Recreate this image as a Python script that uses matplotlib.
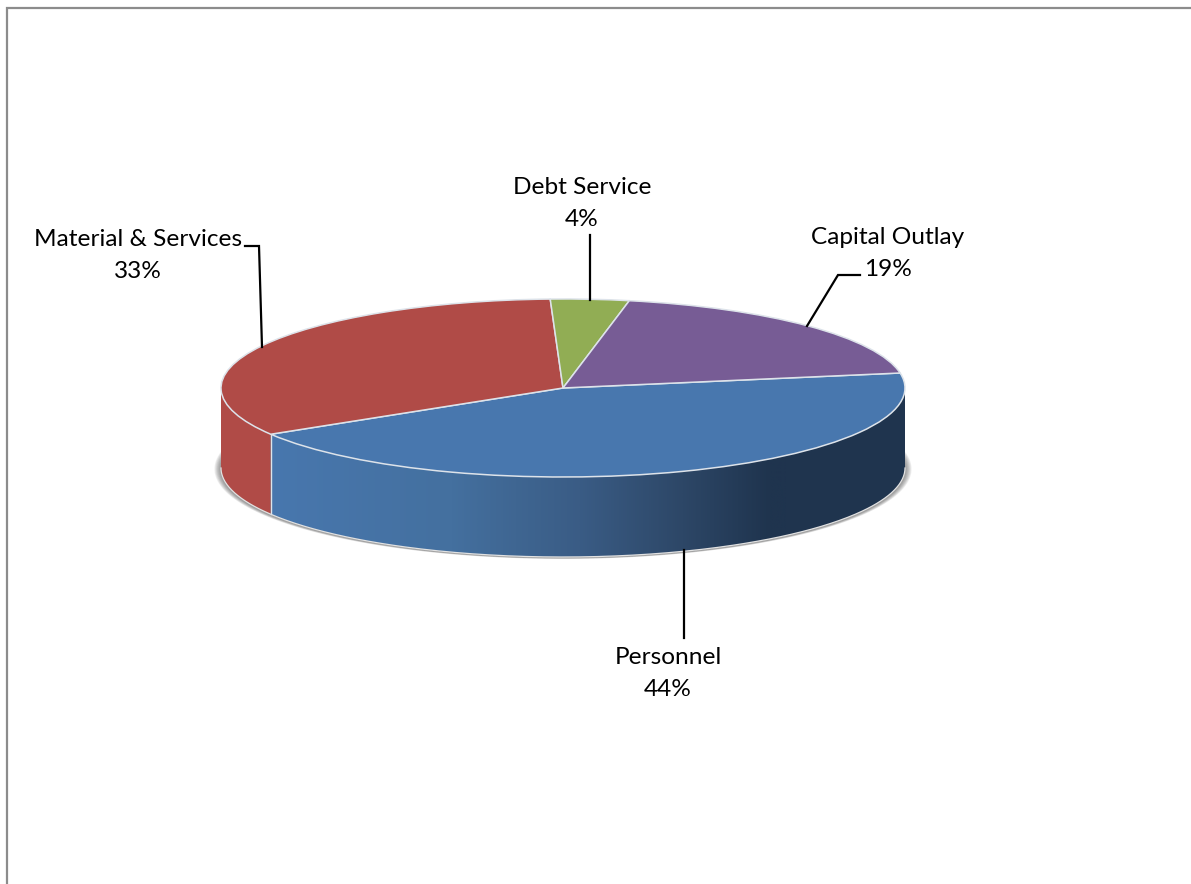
import numpy as np
import matplotlib
matplotlib.use('Agg')
import matplotlib.pyplot as plt
from matplotlib.colors import LinearSegmentedColormap
from matplotlib.patches import Polygon

categories = ['Personnel', 'Material & Services', 'Debt Service', 'Capital Outlay']
shares = [44.0, 33.1, 3.7, 19.2]
colors = ['#4877AE', '#B04B47', '#91AD54', '#775C95']

W, H = 1191, 884
cx, cy = 563, 388
rx, ry = 342, 89
depth = 80 / ry
start = 9.7

plt.rcParams['font.family'] = ['Lato', 'DejaVu Sans']

fig = plt.figure(figsize=(W / 100, H / 100), dpi=100)

# pie axes: one data unit is the pie radius, squashed to look tilted
ax = fig.add_axes([0, 0, 1, 1])
wedges, _ = ax.pie(shares, colors=colors, startangle=start, counterclock=False,
                   wedgeprops={'edgecolor': '#DDE3EA', 'linewidth': 1.1, 'zorder': 5})

# soft shadow under the disc, wider than it is tall
th = np.linspace(0, 2 * np.pi, 400)
for i in range(1, 9):
    ax.fill((1 + i * 0.0024) * np.cos(th), (1 + i * 0.0012) * np.sin(th) - depth - 0.012,
            color='#444444', alpha=0.085, lw=0, zorder=1)


def wall(a, b):
    # outline of the side wall between two angles (degrees)
    t = np.radians(np.linspace(a, b, 200))
    x = np.cos(t)
    y = np.sin(t)
    return np.column_stack([np.r_[x, x[::-1]], np.r_[y, y[::-1] - depth]])


# side wall, split at the Personnel / Material boundary
split = start - shares[0] * 3.6
sx = np.cos(np.radians(split))
sy = np.sin(np.radians(split))

red = Polygon(wall(-180, split), closed=True, fc=colors[1], ec='none', zorder=2)
ax.add_patch(red)

blue_side = LinearSegmentedColormap.from_list(
    'side', [(0, '#4877AE'), (0.35, '#44709F'), (0.6, '#3A5C85'), (0.8, '#2D4767'), (0.97, '#1F344E'), (1, '#1F344E')])
grad = np.linspace(0, 1, 512).reshape(1, -1)
img = ax.imshow(grad, cmap=blue_side, extent=[sx, 0.65, -depth - 1, 0], aspect='auto', zorder=2)
dark = Polygon(wall(split, 0), closed=True, fc='#1F344E', ec='none', zorder=2)
ax.add_patch(dark)
clip = Polygon(wall(split, 0), closed=True, transform=ax.transData)
img.set_clip_path(clip)
img.set_zorder(2.5)

ax.set_aspect('auto')
ax.set_xlim(-cx / rx, (W - cx) / rx)
ax.set_ylim((cy - H) / ry, cy / ry)

# light lines on the wall
t = np.radians(np.linspace(-180, 0, 300))
ax.plot(np.cos(t), np.sin(t) - depth, color='#E2E2E2', lw=0.9, zorder=3)
ax.plot([sx, sx], [sy, sy - depth], color='#DDE3EA', lw=1, zorder=3)

# overlay in pixel coordinates for the frame, leaders and labels
ov = fig.add_axes([0, 0, 1, 1], facecolor='none')
ov.set_xlim(0, W)
ov.set_ylim(H, 0)
ov.axis('off')

ov.plot([7, 7, W], [H, 8, 8], color='#8C8C8C', lw=1.6, solid_joinstyle='miter')

leaders = [
    ([684, 684], [550, 638]),
    ([245, 259, 262], [246, 246, 347]),
    ([590, 590], [235, 300]),
    ([860, 838, 807], [275, 275, 326]),
]
for lx, ly in leaders:
    ov.plot(lx, ly, color='black', lw=1.6, solid_joinstyle='miter')

label_pos = [(668, 658), (138, 239), (582, 188), (888, 237)]
for name, val, (lx, ly) in zip(categories, shares, label_pos):
    ov.text(lx, ly, name, ha='center', va='center', fontsize=17.6, color='black')
    ov.text(lx, ly + 32, f'{val:.0f}%', ha='center', va='center', fontsize=17.6, color='black')

fig.savefig('out.png', dpi=100, facecolor='white')
